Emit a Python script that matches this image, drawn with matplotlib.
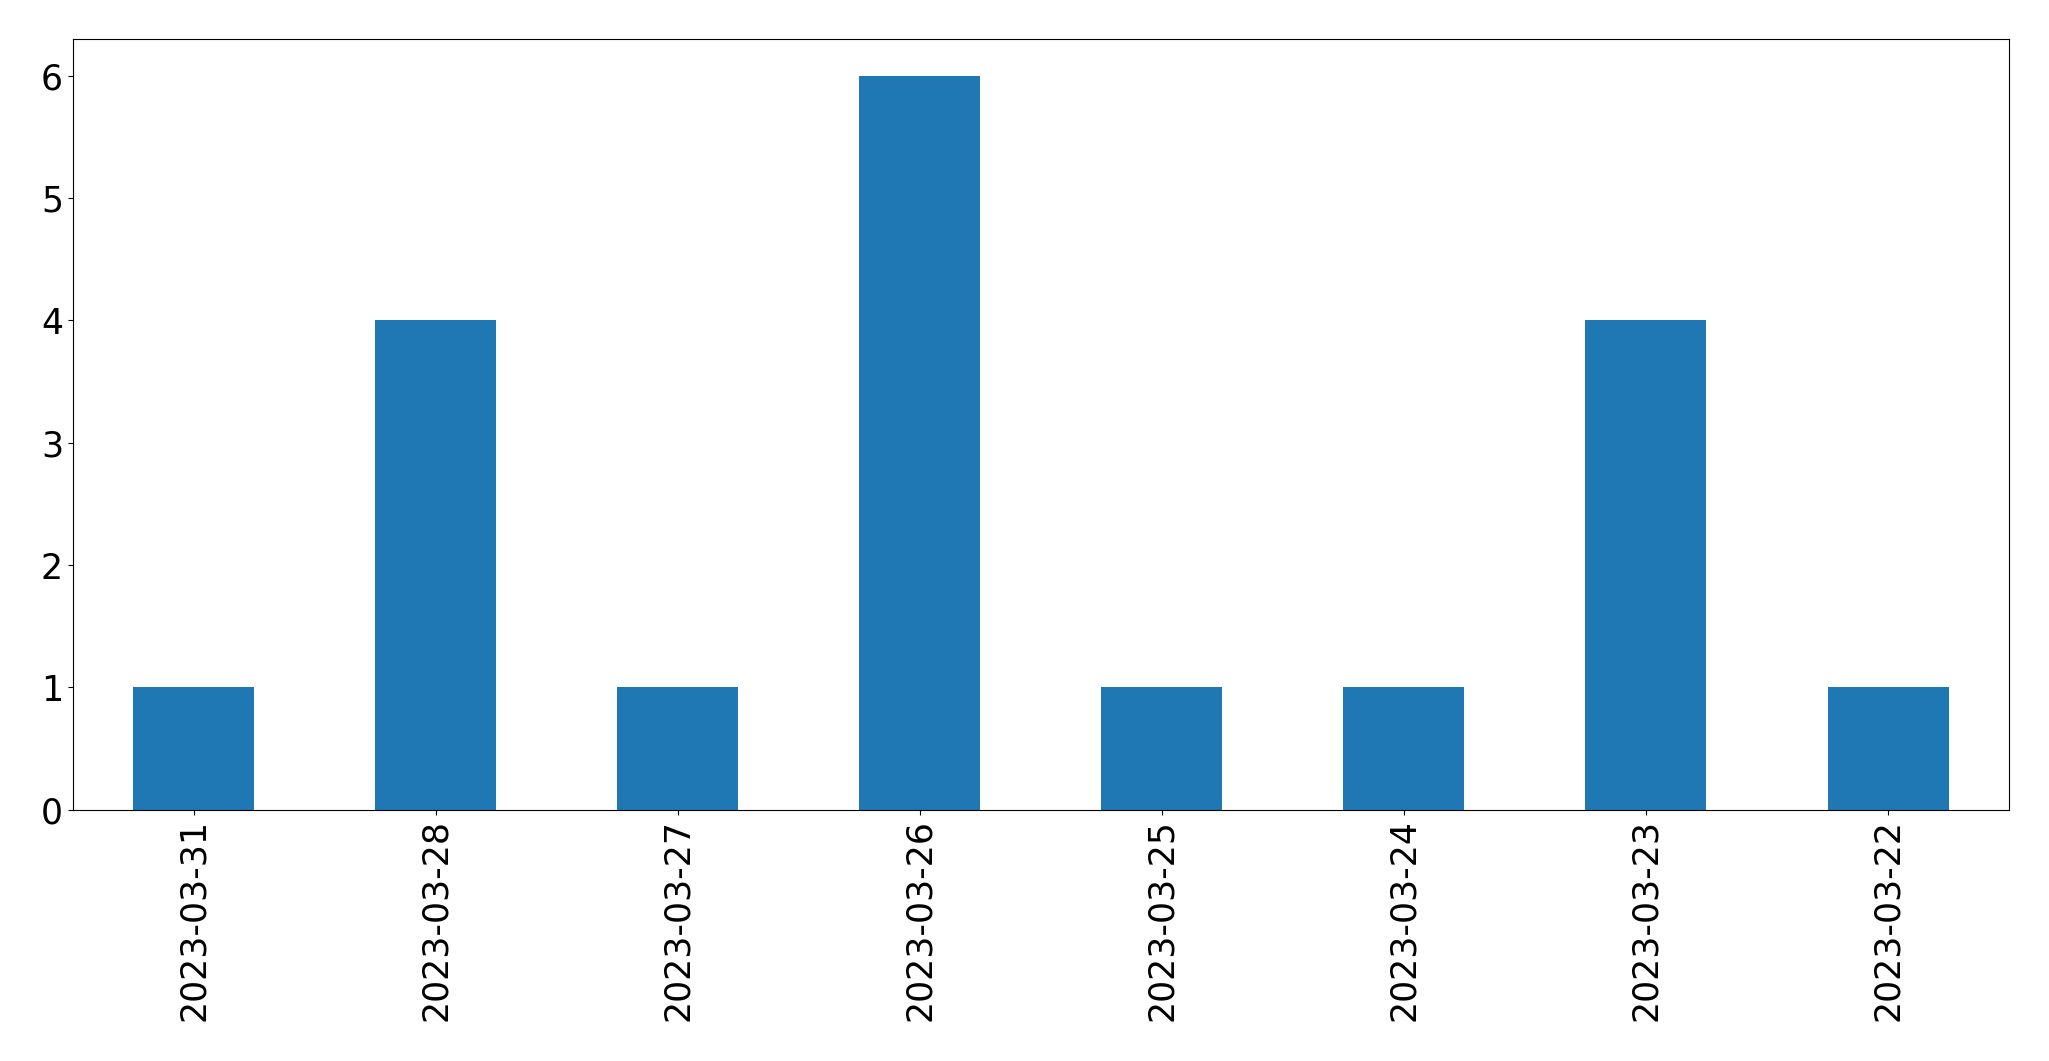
import matplotlib
matplotlib.use("Agg")
import matplotlib.pyplot as plt
import pandas as pd

dates = ["2023-03-31", "2023-03-28", "2023-03-27", "2023-03-26",
         "2023-03-25", "2023-03-24", "2023-03-23", "2023-03-22"]
counts = [1, 4, 1, 6, 1, 1, 4, 1]

s = pd.Series(counts, index=dates)

fig, ax = plt.subplots(figsize=(20.49, 10.61), dpi=100)
s.plot(kind="bar", ax=ax, color="#1f77b4", fontsize=25)
ax.tick_params(axis="both", labelsize=25)
fig.subplots_adjust(left=0.0355, right=0.9805, top=0.963, bottom=0.237)
fig.savefig("out.png", dpi=100)
